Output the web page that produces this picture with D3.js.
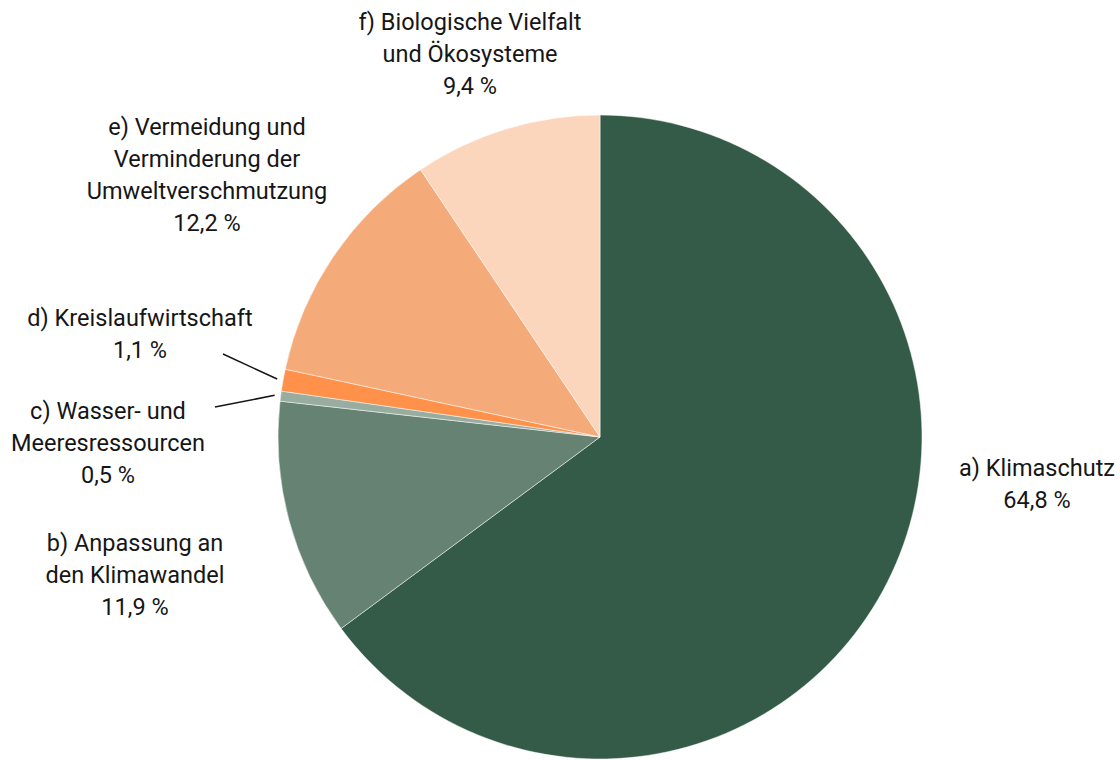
<!DOCTYPE html>
<html lang="de">
<head>
<meta charset="utf-8">
<script src="https://cdn.jsdelivr.net/npm/d3@7"></script>
<style>
  html, body { margin: 0; padding: 0; background: #fff; }
  svg { display: block; }
  text { font-family: "Roboto", "Noto Sans", sans-serif; font-size: 23.5px; fill: #161616; }
</style>
</head>
<body>
<svg id="chart" width="1120" height="760"></svg>
<script>
// Anteile der Umweltziele (in %)
const categories = [
  "a) Klimaschutz",
  "b) Anpassung an den Klimawandel",
  "c) Wasser- und Meeresressourcen",
  "d) Kreislaufwirtschaft",
  "e) Vermeidung und Verminderung der Umweltverschmutzung",
  "f) Biologische Vielfalt und Ökosysteme"
];
const values = [64.8, 11.9, 0.5, 1.1, 12.2, 9.4];
const valueLabels = ["64,8 %", "11,9 %", "0,5 %", "1,1 %", "12,2 %", "9,4 %"];
const labelLines = [
  ["a) Klimaschutz"],
  ["b) Anpassung an", "den Klimawandel"],
  ["c) Wasser- und", "Meeresressourcen"],
  ["d) Kreislaufwirtschaft"],
  ["e) Vermeidung und", "Verminderung der", "Umweltverschmutzung"],
  ["f) Biologische Vielfalt", "und Ökosysteme"]
];
const colors = ["#335b48", "#668272", "#98ada0", "#ff914a", "#f5aa7a", "#fbd6bd"];

// Layout
const cx = 600, cy = 437, radius = 322;
const lineHeight = 32;
// label block anchors: centre x, y of the first line's centre
const labelAnchors = [
  [1037, 468], [135, 543], [108, 411], [140, 318], [207, 127], [470, 22]
];
// leader lines for the two thin slices (c, d): label-side end point
const leaderStarts = { 2: [215, 407], 3: [223, 354] };

const svg = d3.select("#chart");
const g = svg.append("g").attr("transform", `translate(${cx},${cy})`);

const pie = d3.pie().sort(null).value(d => d)(values);
const arc = d3.arc().innerRadius(0).outerRadius(radius);

g.selectAll("path.slice")
  .data(pie)
  .join("path")
  .attr("class", "slice")
  .attr("d", arc)
  .attr("fill", (d, i) => colors[i])
  .attr("stroke", "#ffffff")
  .attr("stroke-width", 0.5)
  .attr("stroke-linejoin", "round");

// leader lines from the label towards the slice edge
Object.entries(leaderStarts).forEach(([k, p]) => {
  const d = pie[+k];
  const mid = (d.startAngle + d.endAngle) / 2;
  const ex = cx + Math.sin(mid) * (radius + 6);
  const ey = cy - Math.cos(mid) * (radius + 6);
  svg.append("line")
    .attr("x1", p[0]).attr("y1", p[1])
    .attr("x2", ex).attr("y2", ey)
    .attr("stroke", "#161616")
    .attr("stroke-width", 1.5);
});

// labels
categories.forEach((c, i) => {
  const [x, y] = labelAnchors[i];
  const lines = labelLines[i].concat([valueLabels[i]]);
  const t = svg.append("text")
    .attr("text-anchor", "middle")
    .attr("dominant-baseline", "central");
  lines.forEach((ln, j) => {
    t.append("tspan").attr("x", x).attr("y", y + j * lineHeight).text(ln);
  });
});
</script>
</body>
</html>
